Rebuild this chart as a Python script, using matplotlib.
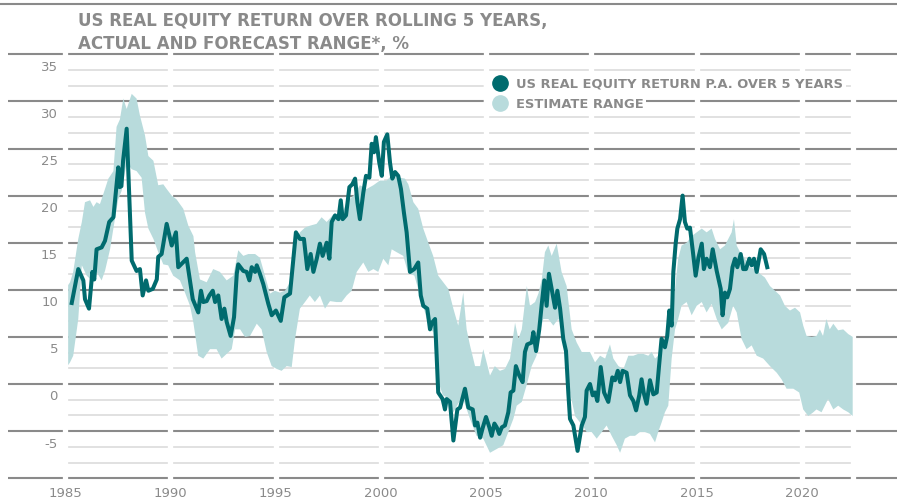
import numpy as np
import matplotlib.pyplot as plt
from matplotlib.lines import Line2D
from matplotlib.patches import Rectangle

# garis aktual (return riil ekuitas AS per tahun, rolling 5 tahun)
tahun_aktual = [1985.32, 1985.63, 1985.87, 1985.95, 1986.14, 1986.30, 1986.39, 1986.50, 1986.74, 1986.90,
                1987.10, 1987.30, 1987.53, 1987.60, 1987.68, 1987.76, 1987.93, 1988.17, 1988.40, 1988.56,
                1988.69, 1988.85, 1988.96, 1989.17, 1989.36, 1989.43, 1989.59, 1989.83, 1990.07, 1990.27,
                1990.38, 1990.78, 1991.07, 1991.33, 1991.46, 1991.57, 1991.73, 1991.86, 1992.02, 1992.13,
                1992.28, 1992.44, 1992.57, 1992.68, 1992.87, 1993.03, 1993.16, 1993.23, 1993.47, 1993.63,
                1993.76, 1993.87, 1994.03, 1994.11, 1994.26, 1994.42, 1994.66, 1994.82, 1995.02, 1995.25,
                1995.42, 1995.69, 1995.97, 1996.16, 1996.35, 1996.51, 1996.67, 1996.80, 1996.96, 1997.11,
                1997.24, 1997.43, 1997.56, 1997.67, 1997.83, 1997.99, 1998.10, 1998.19, 1998.35, 1998.51,
                1998.65, 1998.78, 1998.89, 1999.01, 1999.17, 1999.30, 1999.46, 1999.57, 1999.68, 1999.77,
                1999.93, 2000.05, 2000.15, 2000.31, 2000.44, 2000.55, 2000.68, 2000.83, 2000.96, 2001.10,
                2001.23, 2001.39, 2001.59, 2001.78, 2001.90, 2002.02, 2002.21, 2002.34, 2002.43, 2002.58,
                2002.73, 2002.94, 2003.05, 2003.13, 2003.29, 2003.45, 2003.64, 2003.77, 2004.00, 2004.16,
                2004.37, 2004.48, 2004.59, 2004.72, 2004.85, 2005.00, 2005.16, 2005.27, 2005.40, 2005.51,
                2005.63, 2005.75, 2005.90, 2006.06, 2006.17, 2006.30, 2006.42, 2006.58, 2006.74, 2006.85,
                2006.96, 2007.17, 2007.25, 2007.38, 2007.53, 2007.65, 2007.77, 2007.88, 2007.99, 2008.12,
                2008.28, 2008.39, 2008.52, 2008.67, 2008.80, 2008.91, 2008.99, 2009.15, 2009.35, 2009.55,
                2009.70, 2009.78, 2009.94, 2010.07, 2010.18, 2010.29, 2010.45, 2010.61, 2010.81, 2011.00,
                2011.13, 2011.26, 2011.37, 2011.49, 2011.68, 2011.84, 2012.00, 2012.13, 2012.28, 2012.39,
                2012.50, 2012.63, 2012.79, 2012.95, 2013.11, 2013.22, 2013.34, 2013.50, 2013.61, 2013.71,
                2013.82, 2013.90, 2014.01, 2014.09, 2014.22, 2014.34, 2014.45, 2014.56, 2014.69, 2014.82,
                2014.96, 2015.09, 2015.25, 2015.35, 2015.48, 2015.64, 2015.77, 2015.96, 2016.15, 2016.24,
                2016.35, 2016.46, 2016.59, 2016.71, 2016.83, 2016.94, 2017.10, 2017.22, 2017.35, 2017.51,
                2017.62, 2017.73, 2017.86, 2018.05, 2018.21, 2018.36]
nilai_aktual = [8.6, 12.2, 11.0, 9.0, 8.0, 11.9, 11.1, 14.3, 14.5, 15.2,
                17.2, 17.7, 23.0, 20.9, 21.0, 23.7, 27.1, 13.1, 12.0, 12.2,
                9.4, 11.0, 9.9, 10.1, 11.1, 13.5, 13.8, 17.0, 14.7, 16.1,
                12.4, 13.3, 9.0, 7.6, 9.9, 8.7, 8.8, 9.4, 9.9, 8.7,
                9.4, 6.9, 8.0, 6.6, 5.1, 7.1, 11.7, 12.7, 12.0, 11.9,
                11.0, 12.4, 11.9, 12.6, 11.7, 10.6, 8.5, 7.3, 7.8, 6.7,
                9.2, 9.6, 16.1, 15.4, 15.4, 12.2, 13.8, 11.9, 13.3, 14.9,
                13.6, 15.0, 13.3, 17.2, 17.9, 17.5, 19.5, 17.5, 17.9, 20.9,
                21.2, 21.8, 19.3, 17.5, 20.3, 22.1, 21.9, 25.5, 24.6, 26.2,
                23.5, 22.1, 25.7, 26.5, 23.5, 21.8, 22.5, 22.1, 20.7, 18.2,
                16.1, 11.9, 12.2, 12.9, 9.4, 8.3, 8.0, 5.8, 6.5, 6.9,
                -0.9, -1.6, -2.7, -1.6, -1.9, -6.0, -2.7, -2.5, -0.5, -2.5,
                -2.7, -4.4, -4.1, -5.7, -4.6, -3.5, -4.6, -5.5, -4.2, -4.6,
                -5.3, -4.6, -4.4, -3.0, -0.9, -0.7, 1.9, 0.9, 0.2, 3.4,
                4.2, 4.4, 5.5, 3.5, 5.8, 8.5, 11.0, 8.3, 11.7, 10.1,
                8.1, 9.9, 8.0, 4.8, 3.5, -0.9, -3.7, -4.4, -7.1, -4.4,
                -3.5, -0.7, 0.0, -1.2, -0.9, -1.8, 1.8, -0.9, -1.9, 0.7,
                0.4, 1.4, 0.2, 1.4, 1.2, -1.2, -1.8, -2.8, -1.2, 0.5,
                -1.0, -2.1, 0.4, -1.1, -0.9, 1.9, 4.8, 3.9, 5.1, 7.8,
                6.2, 11.9, 14.9, 16.5, 17.5, 20.0, 17.2, 16.5, 16.6, 14.2,
                11.5, 13.4, 14.9, 12.2, 13.3, 12.4, 14.3, 12.0, 10.1, 7.3,
                9.7, 9.2, 10.1, 12.4, 13.3, 12.4, 13.8, 12.2, 12.2, 13.3,
                12.6, 13.3, 11.9, 14.3, 13.8, 12.4]

# batas atas rentang estimasi
tahun_atas = [1985.15, 1985.24, 1985.39, 1985.63, 1985.80, 1985.95, 1986.19, 1986.35, 1986.50, 1986.66,
              1986.90, 1987.06, 1987.30, 1987.45, 1987.61, 1987.77, 1987.93, 1988.17, 1988.40, 1988.56,
              1988.80, 1988.96, 1989.20, 1989.43, 1989.67, 1989.83, 1990.07, 1990.30, 1990.62, 1990.86,
              1991.10, 1991.18, 1991.41, 1991.73, 1992.04, 1992.36, 1992.68, 1993.00, 1993.23, 1993.47,
              1993.71, 1994.03, 1994.26, 1994.50, 1994.74, 1994.97, 1995.21, 1995.45, 1995.69, 1995.93,
              1996.16, 1996.40, 1996.63, 1996.95, 1997.19, 1997.43, 1997.75, 1998.07, 1998.38, 1998.70,
              1999.01, 1999.33, 1999.65, 1999.96, 2000.28, 2000.59, 2000.91, 2001.15, 2001.31, 2001.55,
              2001.78, 2002.02, 2002.26, 2002.49, 2002.73, 2002.97, 2003.21, 2003.45, 2003.68, 2003.92,
              2004.08, 2004.24, 2004.48, 2004.72, 2004.87, 2005.19, 2005.42, 2005.66, 2005.90, 2006.14,
              2006.38, 2006.54, 2006.70, 2006.94, 2007.09, 2007.33, 2007.49, 2007.65, 2007.80, 2007.96,
              2008.12, 2008.36, 2008.59, 2008.83, 2009.07, 2009.31, 2009.55, 2009.70, 2009.94, 2010.18,
              2010.42, 2010.66, 2010.89, 2011.05, 2011.29, 2011.53, 2011.76, 2012.00, 2012.23, 2012.47,
              2012.71, 2012.87, 2013.03, 2013.18, 2013.34, 2013.50, 2013.66, 2013.82, 2013.98, 2014.13,
              2014.29, 2014.53, 2014.77, 2015.01, 2015.25, 2015.48, 2015.72, 2015.88, 2016.12, 2016.35,
              2016.51, 2016.67, 2016.78, 2016.91, 2017.07, 2017.31, 2017.54, 2017.78, 2018.02, 2018.25,
              2018.49, 2018.73, 2018.97, 2019.20, 2019.44, 2019.68, 2019.92, 2020.07, 2020.23, 2020.47,
              2020.70, 2020.86, 2021.01, 2021.17, 2021.33, 2021.50, 2021.73, 2021.97, 2022.21, 2022.42]
nilai_atas = [10.5, 10.8, 11.9, 15.4, 17.2, 19.3, 19.5, 18.8, 19.3, 19.1,
              20.7, 21.8, 22.6, 27.3, 28.1, 30.3, 29.2, 30.8, 30.3, 28.5,
              26.4, 24.2, 23.7, 21.1, 21.2, 20.7, 20.0, 19.6, 18.6, 16.8,
              15.7, 14.0, 11.1, 10.8, 12.2, 11.9, 11.0, 11.5, 14.2, 13.6,
              13.8, 13.8, 13.4, 11.5, 9.6, 9.9, 9.7, 9.9, 10.8, 15.0,
              16.1, 16.6, 16.8, 17.0, 17.7, 17.2, 18.0, 17.5, 19.3, 20.0,
              21.1, 20.7, 21.1, 21.6, 21.6, 22.3, 21.9, 21.8, 21.2, 19.3,
              18.6, 16.5, 15.0, 13.6, 11.5, 10.8, 10.1, 8.0, 6.2, 9.7,
              5.8, 4.1, 1.9, 1.9, 3.7, 0.9, 1.9, 1.4, 1.6, 2.7,
              6.5, 4.8, 5.8, 10.4, 8.3, 8.7, 9.6, 11.1, 14.0, 14.7,
              13.6, 14.9, 11.9, 10.4, 5.8, 4.4, 3.4, 3.4, 3.4, 2.3,
              3.0, 2.7, 4.2, 2.7, 1.9, 1.6, 3.0, 3.0, 3.2, 3.2,
              3.0, 3.4, 2.7, 3.0, 4.4, 4.8, 6.9, 6.9, 10.1, 13.3,
              14.7, 15.0, 15.7, 16.1, 16.5, 16.1, 16.5, 15.4, 14.3, 14.7,
              15.4, 16.1, 17.5, 14.7, 14.0, 13.3, 12.4, 12.2, 11.7, 11.3,
              10.4, 9.9, 9.4, 8.3, 7.8, 8.1, 7.6, 6.2, 5.1, 5.0,
              5.1, 5.8, 5.1, 6.9, 5.8, 6.4, 5.7, 5.8, 5.3, 5.0]

# batas bawah rentang estimasi
tahun_bawah = [1985.15, 1985.24, 1985.39, 1985.63, 1985.80, 1986.03, 1986.27, 1986.50, 1986.74, 1986.90,
               1987.14, 1987.37, 1987.53, 1987.69, 1987.93, 1988.17, 1988.40, 1988.64, 1988.80, 1988.96,
               1989.20, 1989.43, 1989.67, 1989.90, 1990.14, 1990.46, 1990.70, 1990.94, 1991.10, 1991.33,
               1991.57, 1991.89, 1992.20, 1992.44, 1992.68, 1992.92, 1993.08, 1993.32, 1993.55, 1993.79,
               1994.11, 1994.34, 1994.58, 1994.82, 1995.06, 1995.29, 1995.53, 1995.77, 1995.93, 1996.16,
               1996.40, 1996.63, 1996.87, 1997.11, 1997.35, 1997.59, 1997.90, 1998.14, 1998.38, 1998.62,
               1998.86, 1999.17, 1999.41, 1999.65, 1999.88, 2000.12, 2000.36, 2000.52, 2000.75, 2001.07,
               2001.30, 2001.60, 2001.85, 2002.05, 2002.30, 2002.50, 2002.70, 2002.95, 2003.20, 2003.45,
               2003.70, 2003.92, 2004.24, 2004.55, 2004.87, 2005.19, 2005.51, 2005.82, 2006.06, 2006.30,
               2006.46, 2006.70, 2006.92, 2007.17, 2007.40, 2007.56, 2007.72, 2007.96, 2008.20, 2008.43,
               2008.67, 2008.83, 2008.99, 2009.23, 2009.47, 2009.62, 2009.78, 2010.02, 2010.26, 2010.50,
               2010.73, 2010.97, 2011.21, 2011.37, 2011.60, 2011.84, 2012.08, 2012.31, 2012.55, 2012.79,
               2013.03, 2013.18, 2013.34, 2013.50, 2013.66, 2013.82, 2013.98, 2014.13, 2014.29, 2014.53,
               2014.77, 2015.01, 2015.25, 2015.48, 2015.72, 2015.96, 2016.20, 2016.51, 2016.74, 2016.91,
               2017.14, 2017.38, 2017.62, 2017.86, 2018.17, 2018.49, 2018.81, 2019.04, 2019.28, 2019.60,
               2019.88, 2020.07, 2020.31, 2020.55, 2020.70, 2020.94, 2021.25, 2021.50, 2021.73, 2021.97,
               2022.21, 2022.42]
nilai_bawah = [2.0, 2.3, 3.0, 6.9, 12.6, 11.5, 11.0, 11.9, 11.0, 12.0,
               14.3, 17.5, 19.6, 20.5, 23.5, 22.8, 22.6, 21.9, 18.2, 16.5,
               15.4, 14.0, 12.7, 12.6, 11.5, 11.0, 9.7, 8.3, 6.5, 3.0,
               2.7, 3.7, 3.7, 2.7, 3.2, 3.7, 5.8, 5.8, 5.0, 5.1,
               6.4, 5.8, 3.4, 1.9, 1.6, 1.4, 1.9, 1.8, 4.8, 8.0,
               8.7, 9.4, 8.7, 9.4, 8.0, 8.8, 8.7, 8.7, 9.4, 9.9,
               11.9, 12.9, 11.9, 12.2, 11.9, 13.3, 12.6, 14.3, 14.0, 13.6,
               11.8, 11.5, 9.5, 8.0, 6.0, 5.5, 0.5, -1.2, -1.5, -3.0,
               -2.0, -1.6, -3.7, -5.5, -5.8, -7.3, -6.9, -6.5, -5.1, -3.7,
               -2.3, -1.9, -0.2, 1.9, 3.0, 5.5, 6.9, 6.9, 6.2, 6.9,
               6.2, 3.7, -0.9, -3.4, -4.1, -4.5, -5.1, -5.1, -5.8, -5.1,
               -4.4, -5.5, -6.5, -7.3, -5.8, -5.5, -5.5, -5.1, -5.1, -5.3,
               -6.2, -5.1, -4.1, -3.0, -2.3, 2.7, 5.8, 6.9, 8.3, 8.7,
               7.3, 8.3, 8.7, 7.6, 8.5, 6.9, 5.8, 6.5, 8.3, 7.6,
               4.8, 3.7, 4.1, 3.0, 2.7, 1.9, 1.2, 0.5, -0.5, -0.5,
               -0.9, -2.7, -3.4, -3.0, -2.7, -3.0, -1.6, -2.7, -2.3, -2.7,
               -3.0, -3.4]

label_y = [35, 30, 25, 20, 15, 10, 5, 0, -5]
label_x = [1985, 1990, 1995, 2000, 2005, 2010, 2015, 2020]

warna_garis = '#006b6e'
warna_area = '#b8dbdc'
abu = '#8a8a8a'

W, H = 897, 502
fig = plt.figure(figsize=(W / 100, H / 100), dpi=100)

# posisi sumbu (dalam piksel): x 1985 -> 65 px, 21.05 px/tahun; y 0 -> 385 px, 9.42 px/unit
px_tahun, px_unit = 21.05, 9.42
x0, x1 = 1985 - (65 - 8) / px_tahun, 1985 + (W - 65) / px_tahun
y0, y1 = -10.5, 40.6
kiri = 8 / W
bawah = (H - (385 + 10.5 * px_unit)) / H
tinggi = (y1 - y0) * px_unit / H
ax = fig.add_axes([kiri, bawah, 1 - kiri, tinggi])
ax.set_xlim(x0, x1)
ax.set_ylim(y0, y1)
ax.axis('off')

# grid horizontal
for v in label_y + [-10]:
    ax.plot([x0, x1], [v, v], color=abu, lw=1.5, zorder=1, solid_capstyle='butt')
ax.plot([x0 - 1, x1], [40.3, 40.3], color=abu, lw=1.5, zorder=1, clip_on=False)
tipis = [v for v in np.arange(-10, 35.01, 5 / 3) if abs(v / 5 - round(v / 5)) > 0.01]
for v in tipis:
    ax.plot([1985, 2022.45], [v, v], color='#dcdcdc', lw=1.2, zorder=1, solid_capstyle='butt')
# celah putih per 5 tahun
for t in label_x + [2022.45]:
    ax.plot([t, t], [-10.6, 36], color='white', lw=3.8, zorder=2)

ax.fill(tahun_atas + tahun_bawah[::-1], nilai_atas + nilai_bawah[::-1],
        color=warna_area, lw=0, zorder=3)
ax.plot(tahun_aktual, nilai_aktual, color=warna_garis, lw=2.9, zorder=4,
        solid_joinstyle='round')

# label sumbu
for v in label_y:
    ax.text(1985 - (65 - 58) / px_tahun, v - 1.27, str(v), ha='right', va='center',
            fontsize=9.5, color=abu)
for t in label_x:
    ax.text(t, -10 - 14 / px_unit, str(t), ha='center', va='center', fontsize=9.5,
            color=abu, clip_on=False)

# judul
fig.text(78 / W, 1 - 26 / H, 'US REAL EQUITY RETURN OVER ROLLING 5 YEARS,',
         fontsize=12, fontweight='bold', color=abu, va='baseline')
fig.text(78 / W, 1 - 48.5 / H, 'ACTUAL AND FORECAST RANGE*, %',
         fontsize=12, fontweight='bold', color=abu, va='baseline')

# legenda
for yy, teks, warna in [(84, 'US REAL EQUITY RETURN P.A. OVER 5 YEARS', warna_garis),
                        (104, 'ESTIMATE RANGE', warna_area)]:
    fig.add_artist(Rectangle((484 / W, 1 - (yy + 9) / H), 34 / W, 18 / H,
                             transform=fig.transFigure, color='white', zorder=3))
    fig.add_artist(Line2D([500 / W], [1 - yy / H], marker='o', markersize=11,
                          color=warna, transform=fig.transFigure, zorder=4))
    fig.text(516 / W, 1 - yy / H, teks, fontsize=9.4, fontweight='bold', color=abu,
             va='center', bbox=dict(facecolor='white', edgecolor='none', pad=2), zorder=4)

fig.savefig('out.png', dpi=100)
